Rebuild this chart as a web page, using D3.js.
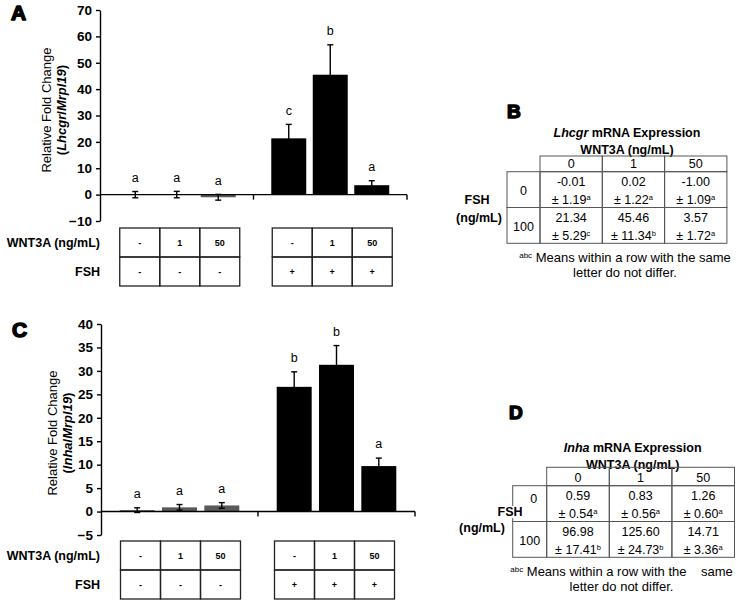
<!DOCTYPE html>
<html><head><meta charset="utf-8">
<script src="https://cdn.jsdelivr.net/npm/d3@7"></script>
<style>
body{margin:0;background:#fff}
svg{display:block}
text{font-family:"Liberation Sans",Arial,sans-serif;fill:#000}
</style>
</head><body><svg id="fig" width="737" height="605"></svg>
<script>
// ---------------- data ----------------
const groups = ["FSH 0", "FSH 100"];
const wntLevels = ["-", "1", "50"];
const fshSigns = ["-", "+"];

const lhcgrMeans = [-0.01, 0.02, -1.00, 21.34, 45.46, 3.57];
const lhcgrErr = [1.19, 1.22, 1.09, 5.29, 11.34, 1.72];
const lhcgrLetters = ["a", "a", "a", "c", "b", "a"];
const lhcgrTicks = [-10, 0, 10, 20, 30, 40, 50, 60, 70];

const inhaMeans = [0.3, 0.9, 1.3, 26.6, 31.3, 9.7];
const inhaErr = [0.5, 0.6, 0.6, 3.2, 4.1, 1.7];
const inhaLetters = ["a", "a", "a", "b", "b", "a"];
const inhaTicks = [-5, 0, 5, 10, 15, 20, 25, 30, 35, 40];

const tableCols = ["0", "1", "50"];
const tableRows = ["0", "100"];
const lhcgrTabMean = [[-0.01, 0.02, -1.00], [21.34, 45.46, 3.57]];
const lhcgrTabSem = [[1.19, 1.22, 1.09], [5.29, 11.34, 1.72]];
const lhcgrTabLet = [["a", "a", "a"], ["c", "b", "a"]];
const inhaTabMean = [[0.59, 0.83, 1.26], [96.98, 125.60, 14.71]];
const inhaTabSem = [[0.54, 0.56, 0.60], [17.41, 24.73, 3.36]];
const inhaTabLet = [["a", "a", "a"], ["b", "b", "a"]];

// ---------------- drawing ----------------
const svg = d3.select("#fig");

function panelLetter(t, x, y, size) {
  svg.append("text").attr("x", x).attr("y", y).text(t)
    .style("font-size", size + "px").style("font-weight", 900)
    .style("stroke", "#000").style("stroke-width", 1.5).style("stroke-linejoin", "round");
}

function drawChart(cfg) {
  const g = svg.append("g");
  const y = d3.scaleLinear().domain(cfg.domain).range(cfg.yRange);
  const xg = d3.scaleBand().domain(groups).range(cfg.xRange);
  const xi = d3.scaleBand().domain(d3.range(3)).range([0, xg.bandwidth()])
    .paddingInner(cfg.pIn).paddingOuter(cfg.pOut);
  const data = cfg.means.map((v, i) => ({
    v, e: cfg.err[i], l: cfg.letters[i], grp: groups[Math.floor(i / 3)], k: i % 3, gi: Math.floor(i / 3)
  }));
  const cx = d => xg(d.grp) + xi(d.k) + xi.bandwidth() / 2;

  // bars
  g.selectAll("rect.bar").data(data).join("rect").attr("class", "bar")
    .attr("x", d => xg(d.grp) + xi(d.k))
    .attr("width", xi.bandwidth())
    .attr("y", d => y(Math.max(d.v, 0)))
    .attr("height", d => Math.abs(y(d.v) - y(0)))
    .attr("fill", d => d.gi === 0 ? "#5a5a5a" : "#000");

  // error bars
  const eb = g.selectAll("g.eb").data(data).join("g").attr("class", "eb")
    .attr("stroke", "#000").attr("stroke-width", 1.4);
  eb.append("line").attr("x1", cx).attr("x2", cx)
    .attr("y1", d => y(d.v - d.e)).attr("y2", d => y(d.v + d.e));
  eb.append("line").attr("x1", d => cx(d) - 3).attr("x2", d => cx(d) + 3)
    .attr("y1", d => y(d.v + d.e)).attr("y2", d => y(d.v + d.e));
  eb.append("line").attr("x1", d => cx(d) - 3).attr("x2", d => cx(d) + 3)
    .attr("y1", d => y(d.v - d.e)).attr("y2", d => y(d.v - d.e));

  // letters
  g.selectAll("text.let").data(data).join("text").attr("class", "let")
    .attr("x", cx).attr("y", d => y(d.v + d.e) - 14).attr("dy", "0.35em")
    .attr("text-anchor", "middle").style("font-size", "12.5px").text(d => d.l);

  // y axis
  const ax = g.append("g").attr("transform", `translate(${cfg.xRange[0]},0)`)
    .call(d3.axisLeft(y).tickValues(cfg.ticks).tickSize(4).tickSizeOuter(0).tickPadding(4));
  ax.selectAll("path,line").attr("stroke", "#000").attr("stroke-width", 1.4);
  ax.selectAll("text").style("font-size", "13.5px").style("font-weight", "bold")
    .style("font-family", "'Liberation Sans',Arial,sans-serif");

  // x axis line with category ticks
  g.append("line").attr("x1", cfg.xRange[0]).attr("x2", cfg.xRange[1])
    .attr("y1", y(0)).attr("y2", y(0)).attr("stroke", "#000").attr("stroke-width", 1.4);
  g.selectAll("line.xt").data(groups).join("line").attr("class", "xt")
    .attr("x1", d => xg(d) + xg.bandwidth()).attr("x2", d => xg(d) + xg.bandwidth())
    .attr("y1", y(0)).attr("y2", y(0) + 5).attr("stroke", "#000").attr("stroke-width", 1.4);

  // y label
  const lab = g.append("text").attr("transform", `translate(${cfg.labX},${cfg.labY}) rotate(-90)`)
    .attr("text-anchor", "middle").style("font-size", "13px");
  lab.append("tspan").attr("x", 0).attr("y", 0).text("Relative Fold Change");
  const l2 = lab.append("tspan").attr("x", 0).attr("y", 14.5).style("font-weight", "bold");
  l2.append("tspan").text("(");
  l2.append("tspan").style("font-style", "italic").text(cfg.gene);
  l2.append("tspan").text("/");
  l2.append("tspan").style("font-style", "italic").text("Mrpl19");
  l2.append("tspan").text(")");

  // treatment tables
  const cw = 40;
  groups.forEach((grp, gi) => {
    const x0 = xg(grp) + xg.bandwidth() / 2 - 60 + cfg.tShift[gi];
    const rowsDef = [wntLevels, wntLevels.map(() => fshSigns[gi])];
    rowsDef.forEach((vals, ri) => {
      const ry = cfg.tTop + ri * cfg.tRowH;
      vals.forEach((v, ci) => {
        g.append("rect").attr("x", x0 + ci * cw).attr("y", ry).attr("width", cw).attr("height", cfg.tRowH)
          .attr("fill", "none").attr("stroke", "#222").attr("stroke-width", 1.3);
        g.append("text").attr("x", x0 + ci * cw + cw / 2).attr("y", ry + cfg.tRowH / 2).attr("dy", "0.35em")
          .attr("text-anchor", "middle").style("font-size", "9px").style("font-weight", "bold").text(v);
      });
    });
  });
  ["WNT3A (ng/mL)", "FSH"].forEach((t, ri) => {
    g.append("text").attr("x", 100).attr("y", cfg.tTop + ri * cfg.tRowH + cfg.tRowH / 2).attr("dy", "0.35em")
      .attr("text-anchor", "end").style("font-size", "12.5px").style("font-weight", "bold").text(t);
  });
}

function drawSummary(cfg) {
  const g = svg.append("g");
  const x0 = cfg.left, lw = cfg.labelW, cw = cfg.colW;
  const colX = d3.scaleBand().domain(tableCols).range([x0 + lw, x0 + lw + 3 * cw]);
  const rowTop = [cfg.top + cfg.headH, cfg.top + cfg.headH + cfg.rowH];
  const stroke = "#555";

  // title
  const t = g.append("text").attr("x", x0 + 120).attr("y", cfg.titleY).attr("dy", "0.35em")
    .attr("text-anchor", "middle").style("font-size", "12.5px").style("font-weight", "bold");
  t.append("tspan").style("font-style", "italic").text(cfg.gene);
  t.append("tspan").text(" mRNA Expression");
  g.append("text").attr("x", x0 + 120).attr("y", cfg.titleY + 17).attr("dy", "0.35em")
    .attr("text-anchor", "middle").style("font-size", "12.5px").style("font-weight", "bold").text("WNT3A (ng/mL)");

  // header cells
  tableCols.forEach(c => {
    g.append("rect").attr("x", colX(c)).attr("y", cfg.top).attr("width", cw).attr("height", cfg.headH)
      .attr("fill", "none").attr("stroke", stroke).attr("stroke-width", 1);
    g.append("text").attr("x", colX(c) + cw / 2).attr("y", cfg.top + cfg.headH / 2 + cfg.headAdj).attr("dy", "0.35em")
      .attr("text-anchor", "middle").style("font-size", "12.5px").text(c);
  });
  // rows
  tableRows.forEach((r, ri) => {
    const ty = rowTop[ri];
    g.append("rect").attr("x", x0).attr("y", ty).attr("width", lw).attr("height", cfg.rowH)
      .attr("fill", "none").attr("stroke", stroke).attr("stroke-width", 1);
    g.append("text").attr("x", x0 + lw / 2 + (ri === 0 ? cfg.row0dx : 0))
      .attr("y", ty + cfg.rowH / 2 + 1 + (ri === 0 ? cfg.row0dy : 0)).attr("dy", "0.35em")
      .attr("text-anchor", "middle").style("font-size", "12.5px").text(r);
    tableCols.forEach((c, ci) => {
      g.append("rect").attr("x", colX(c)).attr("y", ty).attr("width", cw).attr("height", cfg.rowH)
        .attr("fill", "none").attr("stroke", stroke).attr("stroke-width", 1);
      g.append("text").attr("x", colX(c) + cw / 2).attr("y", ty + cfg.rowH * 0.27).attr("dy", "0.35em")
        .attr("text-anchor", "middle").style("font-size", "12.5px").text(cfg.means[ri][ci].toFixed(2));
      const pm = g.append("text").attr("x", colX(c) + cw / 2).attr("y", ty + cfg.rowH * 0.78).attr("dy", "0.35em")
        .attr("text-anchor", "middle").style("font-size", "12.5px");
      pm.append("tspan").text("± " + cfg.sems[ri][ci].toFixed(2));
      pm.append("tspan").attr("dy", "-4").style("font-size", "7.5px").text(cfg.lets[ri][ci]);
    });
  });
  if (cfg.fshBg) {
    g.append("rect").attr("x", cfg.fshX - 13).attr("y", cfg.fshY - 6).attr("width", 26).attr("height", 12).attr("fill", "#fff");
  }
  g.append("text").attr("x", cfg.fshX).attr("y", cfg.fshY).attr("dy", "0.35em").attr("text-anchor", "middle")
    .style("font-size", "12.5px").style("font-weight", "bold").text("FSH");
  g.append("text").attr("x", cfg.ngX).attr("y", cfg.ngY).attr("dy", "0.35em").attr("text-anchor", "middle")
    .style("font-size", "12.5px").style("font-weight", "bold").text("(ng/mL)");

  // footnote
  const f = g.append("text").attr("x", cfg.footX).attr("y", cfg.footY).attr("dy", "0.35em")
    .attr("text-anchor", "middle").style("font-size", "13px").style("white-space", "pre");
  f.append("tspan").style("font-size", "8px").attr("baseline-shift", "4").text("abc");
  f.append("tspan").attr("baseline-shift", "0").text(" " + cfg.foot1);
  g.append("text").attr("x", cfg.footX).attr("y", cfg.footY + 15).attr("dy", "0.35em")
    .attr("text-anchor", "middle").style("font-size", "13px").text("letter do not differ.");
}

// Panel A
panelLetter("A", 11, 20, 21);
drawChart({
  domain: [-10, 70], yRange: [221, 10], xRange: [100, 407], pIn: 0.157, pOut: 0.428,
  means: lhcgrMeans, err: lhcgrErr, letters: lhcgrLetters, ticks: lhcgrTicks,
  gene: "Lhcgr", labX: 51, labY: 110, tTop: 228, tRowH: 29, tShift: [3, 2]
});

// Panel C
panelLetter("C", 12, 337, 21);
drawChart({
  domain: [-5, 40], yRange: [535, 324], xRange: [101, 415], pIn: 0.173, pOut: 0.442,
  means: inhaMeans, err: inhaErr, letters: inhaLetters, ticks: inhaTicks,
  gene: "Inha", labX: 57, labY: 433, tTop: 541, tRowH: 29, tShift: [1, -2]
});

// Panel B
panelLetter("B", 507, 118, 19);
drawSummary({
  gene: "Lhcgr", left: 507, labelW: 33, colW: 62.3, top: 156, headH: 15.7, rowH: 35.8, headAdj: 0,
  titleY: 132.7, means: lhcgrTabMean, sems: lhcgrTabSem, lets: lhcgrTabLet,
  fshX: 477, fshY: 200, ngX: 479, ngY: 218, fshBg: false, row0dx: 0, row0dy: 0,
  footX: 625, footY: 257.7, foot1: "Means within a row with the same"
});

// Panel D
panelLetter("D", 509, 419, 19);
drawSummary({
  gene: "Inha", left: 512.7, labelW: 34, colW: 62.6, top: 467.3, headH: 18.4, rowH: 35.8, headAdj: 1.5,
  titleY: 447.3, means: inhaTabMean, sems: inhaTabSem, lets: inhaTabLet,
  fshX: 510, fshY: 512, ngX: 482, ngY: 528, fshBg: true, row0dx: 4, row0dy: -6,
  footX: 621.5, footY: 571.7, foot1: "Means within a row with the    same"
});
</script>
</body></html>
